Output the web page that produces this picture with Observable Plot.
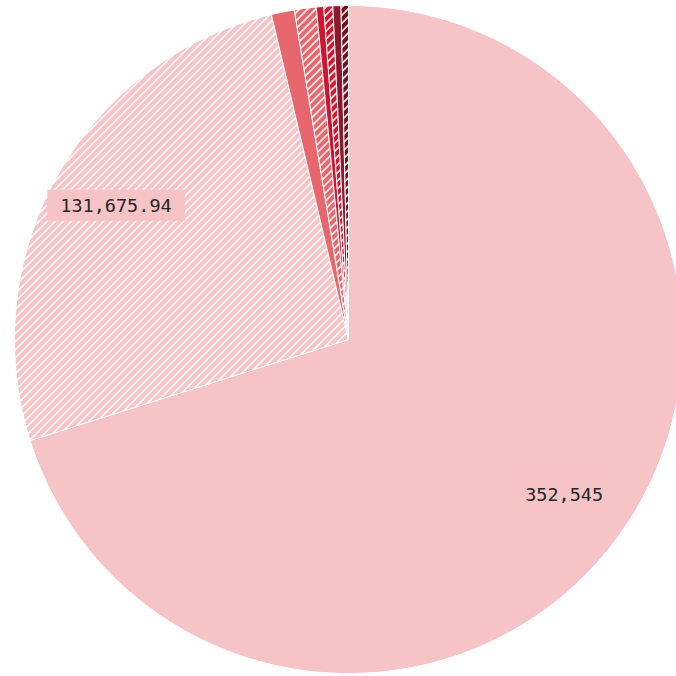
<!DOCTYPE html>
<html>
<head>
<meta charset="utf-8">
<script src="https://cdn.jsdelivr.net/npm/d3@7"></script>
<script src="https://cdn.jsdelivr.net/npm/@observablehq/plot@0.6"></script>
<style>
  html, body { margin: 0; padding: 0; background: #ffffff; }
  #chart { width: 676px; height: 676px; overflow: hidden; }
</style>
</head>
<body>
<div id="chart"></div>
<script>
// ---- data ----
const categories = ["Slice 1", "Slice 2", "Slice 3", "Slice 4", "Slice 5", "Slice 6", "Slice 7", "Slice 8"];
const values = [352545, 131675.94, 5600, 5300, 1800, 2200, 1950, 1800];
const baseColors = ["#f6c3c6", "#f6c3c6", "#e8666d", "#e8666d", "#cf1530", "#cf1530", "#8c1a2c", "#6e1020"];
const hatched = [false, true, false, true, false, true, false, true];
const labelText = ["352,545", "131,675.94", "", "", "", "", "", ""];

// ---- layout ----
const W = 676, H = 676;
const R = 334, CX = 348, CY = 339;

const pie = d3.pie().sort(null).value(d => d.value).startAngle(0).endAngle(2 * Math.PI);
const rows = categories.map((c, i) => ({
  key: c, value: values[i], color: baseColors[i], hatched: hatched[i], label: labelText[i], i
}));
const arcs = pie(rows);

function fillFor(r) { return r.hatched ? `url(#hatch-${r.i})` : r.color; }

// polygon points for each slice (unit radius, y up)
const pts = [];
arcs.forEach(a => {
  const r = a.data;
  pts.push({key: r.key, x: 0, y: 0});
  const n = Math.max(2, Math.ceil((a.endAngle - a.startAngle) / (Math.PI / 360)));
  for (let k = 0; k <= n; k++) {
    const t = a.startAngle + (a.endAngle - a.startAngle) * k / n;
    pts.push({key: r.key, x: Math.sin(t), y: Math.cos(t)});
  }
  pts.push({key: r.key, x: 0, y: 0});
});

const labels = arcs.filter(a => a.data.label).map(a => {
  const t = (a.startAngle + a.endAngle) / 2;
  return {text: a.data.label, x: 0.80 * Math.sin(t), y: 0.80 * Math.cos(t), bg: a.data.color};
});

const defsMark = () => {
  const defs = d3.create("svg:defs");
  rows.filter(r => r.hatched).forEach(r => {
    const p = defs.append("pattern")
      .attr("id", `hatch-${r.i}`)
      .attr("patternUnits", "userSpaceOnUse")
      .attr("width", 5.7).attr("height", 5.7)
      .attr("patternTransform", "rotate(45)");
    p.append("rect").attr("width", 5.7).attr("height", 5.7).attr("fill", r.color);
    p.append("line").attr("x1", 1).attr("y1", 0).attr("x2", 1).attr("y2", 5.7)
      .attr("stroke", "#ffffff").attr("stroke-opacity", 0.85).attr("stroke-width", 1.8);
  });
  return defs.node();
};

const sliceMarks = arcs.map(a => Plot.line(pts.filter(p => p.key === a.data.key), {
  x: "x", y: "y", fill: fillFor(a.data), stroke: "#ffffff", strokeWidth: 1, curve: "linear"
}));

const chart = Plot.plot({
  width: W, height: H,
  margin: 0,
  x: {domain: [-CX / R, (W - CX) / R], range: [0, W], axis: null},
  y: {domain: [CY / R, -(H - CY) / R], range: [0, H], axis: null},
  style: {background: "transparent"},
  marks: [
    defsMark,
    ...sliceMarks,
    Plot.text(labels, {
      x: "x", y: "y", text: "text", dy: -2,
      fontFamily: "DejaVu Sans Mono", fontSize: 18.5, fill: "#262626", className: "pie-label"
    })
  ]
});

document.getElementById("chart").appendChild(chart);

// background boxes behind labels
d3.select(chart).selectAll(".pie-label text").each(function() {
  const bb = this.getBBox();
  const padX = 13, padY = 5;
  const tr = this.getAttribute("transform");
  const rect = d3.select(this.parentNode).insert("rect", () => this)
    .attr("x", bb.x - padX).attr("y", bb.y - padY)
    .attr("width", bb.width + 2 * padX).attr("height", bb.height + 2 * padY)
    .attr("fill", "#f6c3c6");
  if (tr) rect.attr("transform", tr);
});
</script>
</body>
</html>
